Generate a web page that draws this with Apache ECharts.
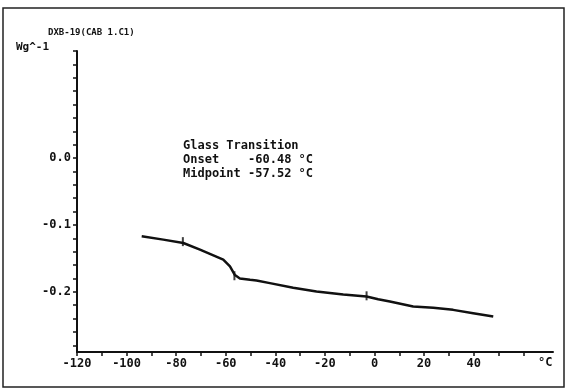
<!DOCTYPE html>
<html>
<head>
<meta charset="utf-8">
<script src="https://cdn.jsdelivr.net/npm/echarts@6/dist/echarts.min.js"></script>
<style>
  html, body { margin: 0; padding: 0; background: #fff; }
  #chart { width: 568px; height: 392px; }
</style>
</head>
<body>
<div id="chart"></div>
<script>
// DSC trace, temperature (°C) vs heat flow (W/g)
const temps = [-93.9, -85.2, -77.1, -70.4, -61.0, -58.3, -56.3, -54.3, -50.2, -47.6, -42.2, -32.8, -23.4, -12.6, -3.2, 1.5, 6.2, 15.6, 23.7, 31.7, 39.8, 47.9];
const heatFlow = [-0.117, -0.122, -0.127, -0.137, -0.152, -0.162, -0.175, -0.180, -0.182, -0.183, -0.187, -0.194, -0.1995, -0.204, -0.207, -0.211, -0.2145, -0.222, -0.224, -0.227, -0.232, -0.237];
// small marks drawn across the curve (onset / midpoint / end markers)
const markTemps = [-77.3, -56.5, -3.2];
const markFlow = [-0.125, -0.176, -0.206];

const xLabelValues = [-120, -100, -80, -60, -40, -20, 0, 20, 40];
const xTickValues = [-120, -110, -100, -90, -80, -70, -60, -50, -40, -30, -20, -10, 0, 10, 20, 30, 40, 50, 60];
const yLabelValues = [0.0, -0.1, -0.2];
const yTickValues = [0.16, 0.14, 0.12, 0.10, 0.08, 0.06, 0.04, 0.02, 0.0, -0.02, -0.04, -0.06, -0.08, -0.1, -0.12, -0.14, -0.16, -0.18, -0.2, -0.22, -0.24, -0.26, -0.28];

const titleText = 'DXB-19(CAB 1.C1)';
const annotation = ['Glass Transition', 'Onset    -60.48 °C', 'Midpoint -57.52 °C'];

const mono = '"DejaVu Sans Mono", "Liberation Mono", monospace';
const ink = '#111';

const chart = echarts.init(document.getElementById('chart'));

chart.setOption({
  animation: false,
  backgroundColor: '#fff',
  grid: { left: 77, right: 15, top: 51, bottom: 40 },
  xAxis: {
    type: 'value',
    min: -120,
    max: 72,
    splitLine: { show: false },
    axisLine: { show: true, onZero: false, lineStyle: { color: ink, width: 2 } },
    axisTick: { show: true, length: 4, customValues: xTickValues, lineStyle: { color: ink, width: 1.5 } },
    axisLabel: {
      customValues: xLabelValues,
      color: ink,
      fontFamily: mono,
      fontSize: 12,
      fontWeight: 'bold',
      margin: 6
    }
  },
  yAxis: {
    type: 'value',
    min: -0.29,
    max: 0.16,
    splitLine: { show: false },
    axisLine: { show: true, onZero: false, lineStyle: { color: ink, width: 2 } },
    axisTick: { show: true, length: 4, customValues: yTickValues, lineStyle: { color: ink, width: 1.5 } },
    axisLabel: {
      customValues: yLabelValues,
      formatter: v => v.toFixed(1),
      color: ink,
      fontFamily: mono,
      fontSize: 12,
      fontWeight: 'bold',
      margin: 6
    }
  },
  series: [
    {
      type: 'line',
      data: temps.map((t, i) => [t, heatFlow[i]]),
      showSymbol: false,
      lineStyle: { color: ink, width: 2.5 }
    },
    {
      type: 'scatter',
      data: markTemps.map((t, i) => [t, markFlow[i]]),
      symbol: 'rect',
      symbolSize: [2, 9],
      itemStyle: { color: ink }
    }
  ],
  graphic: [
    {
      type: 'rect',
      shape: { x: 3, y: 8, width: 561, height: 379 },
      style: { fill: 'none', stroke: '#222', lineWidth: 1.5 },
      silent: true
    },
    {
      type: 'text',
      left: 48,
      top: 28,
      style: { text: titleText, font: 'bold 9px ' + mono, fill: ink }
    },
    {
      type: 'text',
      left: 16,
      top: 42,
      style: { text: 'Wg^-1', font: 'bold 11px ' + mono, fill: ink }
    },
    {
      type: 'text',
      left: 538,
      top: 357,
      style: { text: '°C', font: 'bold 12px ' + mono, fill: ink }
    },
    {
      type: 'text',
      left: 183,
      top: 139,
      style: { text: annotation.join('\n'), font: 'bold 12px ' + mono, lineHeight: 14, fill: ink }
    }
  ]
});
</script>
</body>
</html>
